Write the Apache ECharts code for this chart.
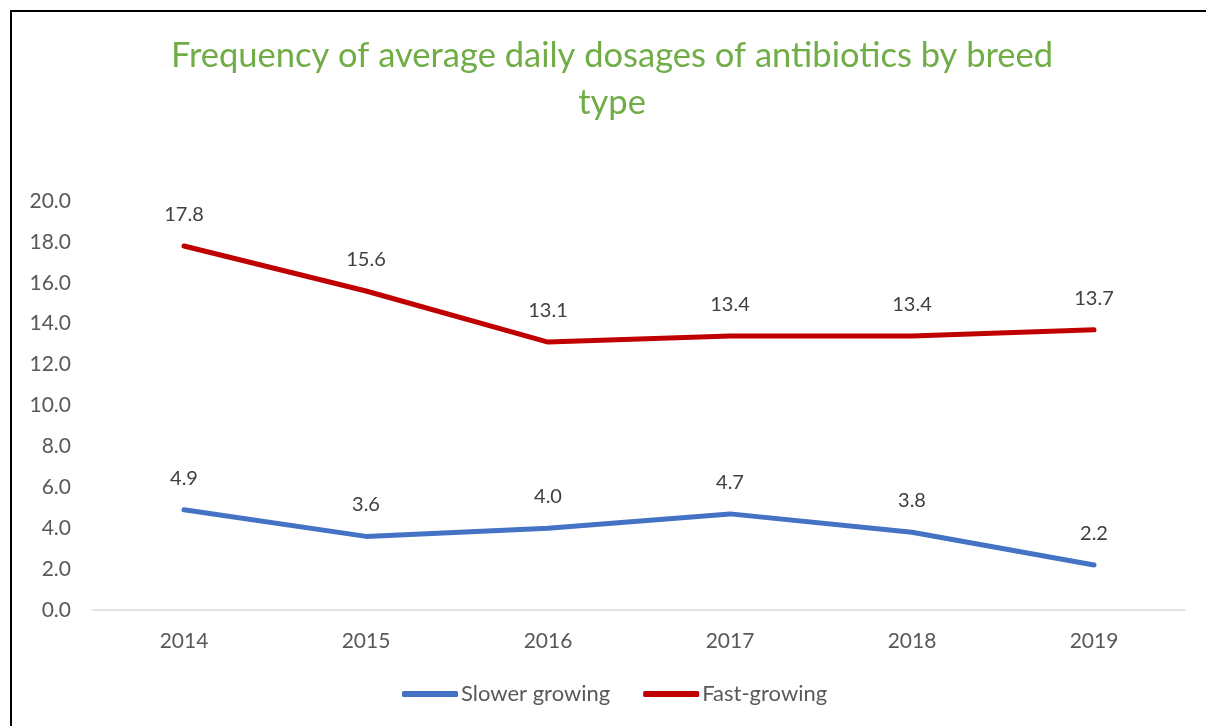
<!DOCTYPE html>
<html>
<head>
<meta charset="utf-8">
<script src="https://cdn.jsdelivr.net/npm/echarts@6/dist/echarts.min.js"></script>
<style>
html, body { margin: 0; padding: 0; overflow: hidden; background: #fff; }
#chart { position: absolute; left: 0; top: 0; width: 1206px; height: 726px; }
#frame { position: absolute; left: 10px; top: 10px; width: 1400px; height: 900px; border: 2px solid #000; pointer-events: none; }
</style>
</head>
<body>
<div id="chart"></div>
<div id="frame"></div>
<script>
// 数据
var years = ['2014', '2015', '2016', '2017', '2018', '2019'];
var slowerGrowing = [4.9, 3.6, 4.0, 4.7, 3.8, 2.2];
var fastGrowing = [17.8, 15.6, 13.1, 13.4, 13.4, 13.7];

var font = 'Lato, "Open Sans", sans-serif';

function lineSeries(name, data, color) {
    return {
        name: name,
        type: 'line',
        data: data,
        symbol: 'circle',
        symbolSize: 1,
        showSymbol: true,
        color: color,
        itemStyle: { color: color },
        lineStyle: { width: 5, cap: 'round' },
        label: {
            show: true, position: 'top', distance: 21,
            color: '#404040', fontFamily: font, fontSize: 20,
            formatter: function (p) { return p.value.toFixed(1); }
        }
    };
}

var chart = echarts.init(document.getElementById('chart'));
chart.setOption({
    animation: false,
    title: {
        text: 'Frequency of average daily dosages of antibiotics by breed\ntype',
        left: 607,
        top: 27,
        textAlign: 'center',
        textStyle: {
            color: '#70AD47',
            fontFamily: font,
            fontWeight: 'normal',
            fontSize: 34.5,
            lineHeight: 47
        }
    },
    legend: {
        bottom: 16,
        left: 397,
        icon: 'roundRect',
        itemWidth: 56,
        itemHeight: 6,
        itemGap: 33,
        textStyle: { color: '#595959', fontFamily: font, fontSize: 22, padding: [0, 0, 0, -2] },
        data: ['Slower growing', 'Fast-growing']
    },
    grid: { left: 93, right: 21, top: 201, bottom: 116, containLabel: false },
    xAxis: {
        type: 'category',
        data: years,
        axisLine: { lineStyle: { color: '#D9D9D9', width: 1.5 } },
        axisTick: { show: false },
        axisLabel: { color: '#595959', fontFamily: font, fontSize: 21, margin: 21 }
    },
    yAxis: {
        type: 'value',
        min: 0,
        max: 20,
        interval: 2,
        splitLine: { show: false },
        axisLine: { show: false },
        axisTick: { show: false },
        axisLabel: {
            color: '#595959', fontFamily: font, fontSize: 21, margin: 22,
            formatter: function (v) { return v.toFixed(1); }
        }
    },
    series: [
        lineSeries('Slower growing', slowerGrowing, '#4472C4'),
        lineSeries('Fast-growing', fastGrowing, '#C00000')
    ]
});
</script>
</body>
</html>
